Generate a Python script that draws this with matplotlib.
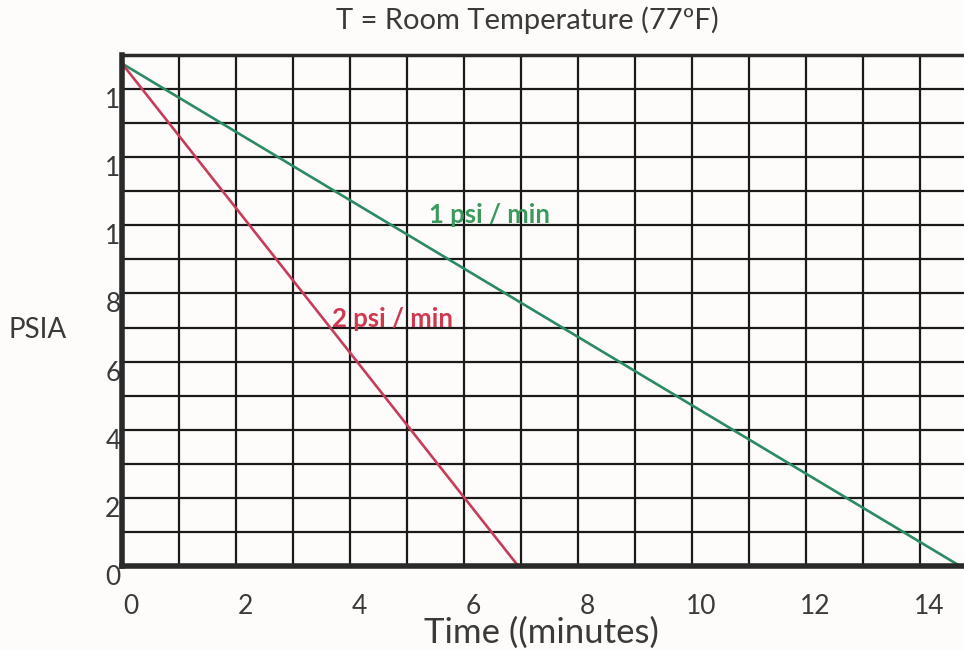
import matplotlib.pyplot as plt
from matplotlib.transforms import ScaledTranslation

plt.rcParams['font.family'] = ['Lato', 'DejaVu Sans']

# data
time_1psi = [0, 14.7]
psia_1psi = [14.75, 0]
time_2psi = [0, 6.95]
psia_2psi = [14.75, 0]

x_ticks = [0, 2, 4, 6, 8, 10, 12, 14]
x_tick_labels = ['0', '2', '4', '6', '8', '10', '12', '14']
y_ticks = [0, 2, 4, 6, 8, 10, 12, 14]
y_tick_labels = ['0', '2', '4', '6', '8', '1', '1', '1']

green = '#2b8a62'
red = '#c63c5a'
ink = '#3a3a3a'

fig = plt.figure(figsize=(9.64, 6.5), dpi=100, facecolor='#fdfcfa')
ax = fig.add_axes([122 / 964, 1 - 566 / 650, 1 - 122 / 964, (566 - 55) / 650])
ax.set_facecolor('#fdfcfa')

ax.set_xlim(0, 14.77)
ax.set_ylim(0, 15)

ax.set_xticks(range(0, 15), minor=True)
ax.set_yticks(range(0, 16), minor=True)
ax.set_xticks(x_ticks)
ax.set_xticklabels(x_tick_labels)
ax.set_yticks(y_ticks)
ax.set_yticklabels(y_tick_labels)
ax.grid(which='both', color='#1a1a1a', linewidth=1.6)
ax.set_axisbelow(True)
ax.tick_params(which='both', length=0, labelsize=19, labelcolor=ink)
ax.tick_params(axis='x', pad=20)
ax.tick_params(axis='y', pad=1)

# labels sit a bit off the grid lines in the original
for lab in ax.get_xticklabels():
    lab.set_transform(lab.get_transform() + ScaledTranslation(0.09, 0, fig.dpi_scale_trans))
for lab in ax.get_yticklabels():
    lab.set_transform(lab.get_transform() + ScaledTranslation(0, -0.09, fig.dpi_scale_trans))

for side in ['left', 'bottom']:
    ax.spines[side].set_linewidth(4)
    ax.spines[side].set_color('#2a2a2a')
ax.spines['top'].set_linewidth(2.5)
ax.spines['top'].set_color('#2a2a2a')
ax.spines['right'].set_visible(False)

ax.plot(time_1psi, psia_1psi, color=green, linewidth=1.9, clip_on=False)
ax.plot(time_2psi, psia_2psi, color=red, linewidth=1.9, clip_on=False)

ax.text(6.45, 10.3, '1 psi / min', color='#3a9a5e', fontsize=18.5, fontweight='bold',
        ha='center', va='center')
ax.text(4.75, 7.25, '2 psi / min', color='#d0384f', fontsize=18.5, fontweight='bold',
        ha='center', va='center')

fig.text(527 / 964, 1 - 20 / 650, 'T = Room Temperature (77ºF)', fontsize=21,
         color=ink, ha='center', va='center')
fig.text(38 / 964, 1 - 330 / 650, 'PSIA', fontsize=20, color=ink,
         ha='center', va='center')
fig.text(541 / 964, 1 - 633 / 650, 'Time ((minutes)', fontsize=25, color=ink,
         ha='center', va='center')

fig.savefig('out.png', dpi=100, facecolor=fig.get_facecolor())
